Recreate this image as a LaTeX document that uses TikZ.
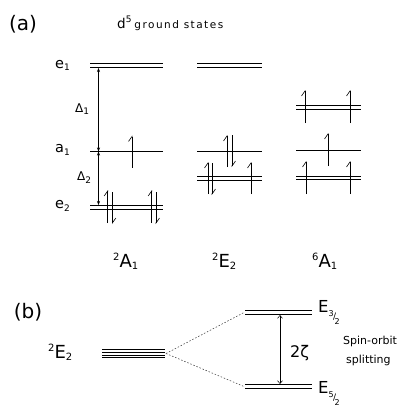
\documentclass[tikz,border=0pt]{standalone}
\usepackage{fontspec}
\setmainfont{DejaVu Sans}
\usetikzlibrary{arrows.meta}
\newcommand\subx[3]{\raisebox{#1}{\fontsize{#2}{#2}\selectfont #3}}
\begin{document}
\begin{tikzpicture}[x=1pt,y=-1pt,
  lvl/.style={line width=0.9pt},
  fine/.style={line width=0.55pt},
  upe/.style={line width=0.6pt,-{Straight Barb[harpoon,length=5pt,width=7pt,line width=0.6pt]}},
  gap/.style={line width=0.5pt,{Stealth[length=4pt,width=3pt]}-{Stealth[length=4pt,width=3pt]}},
  zgap/.style={line width=0.5pt,{Straight Barb[length=3pt,width=5pt,line width=0.5pt]}-{Straight Barb[length=3pt,width=5pt,line width=0.5pt]}},
  dotl/.style={line width=0.55pt,dash pattern=on 1.5pt off 1.8pt,black!75},
  lab/.style={anchor=base west,inner sep=0pt,font=\fontsize{14.5}{14.5}\selectfont},
  big/.style={anchor=base west,inner sep=0pt,font=\fontsize{18}{18}\selectfont},
  small/.style={anchor=base west,inner sep=0pt,font=\fontsize{11}{11}\selectfont}
]
\useasboundingbox (0,0) rectangle (409,413);
% headings
\node[inner sep=0pt,font=\fontsize{20}{20}\selectfont] (pa) at (23,24) {(a)};
\node[anchor=base west,inner sep=0pt,font=\fontsize{13.5}{13.5}\selectfont] (title) at (117,28)
  {d\subx{6pt}{9}{5}\kern3pt{\fontsize{10.5}{10.5}\selectfont\addfontfeature{LetterSpace=14}ground states}};
\node[inner sep=0pt,font=\fontsize{20}{20}\selectfont] (pb) at (28,312) {(b)};
% level labels
\node[lab] (le1) at (55,68) {e\subx{-2pt}{9}{1}};
\node[lab] (la1) at (55,152) {a\subx{-3pt}{9}{1}};
\node[lab] (le2) at (55,208) {e\subx{-3pt}{9}{2}};
\node[anchor=base west,inner sep=0pt,font=\fontsize{12}{12}\selectfont] (ld1) at (75,112) {Δ\subx{-2pt}{9}{1}};
\node[anchor=base west,inner sep=0pt,font=\fontsize{12}{12}\selectfont] (ld2) at (77,180) {Δ\subx{-3pt}{9}{2}};
% term labels
\node[big] (t1) at (113,267) {\subx{7pt}{10}{2}A\subx{-2pt}{10}{1}};
\node[big] (t2) at (212,267) {\subx{7pt}{10}{2}E\subx{-2pt}{10}{2}};
\node[big] (t3) at (312,267) {\subx{7pt}{10}{6}A\subx{-2pt}{10}{1}};
% column 1 (2A1)
\draw[lvl] (90,63.5) -- (163,63.5);
\draw[lvl] (90,67.5) -- (163,67.5);
\draw[lvl] (90,151.5) -- (163,151.5);
\draw[lvl] (90,205) -- (163,205);
\draw[lvl] (90,209) -- (163,209);
\draw[upe] (132,167.5) -- (132,135.5);
\draw[upe] (107.7,223) -- (107.7,190);
\draw[upe] (112.3,192) -- (112.3,224);
\draw[upe] (151.7,223) -- (151.7,190);
\draw[upe] (156,192) -- (156,224);
% gaps
\coordinate (d1top) at (98.5,68);
\coordinate (d1bot) at (98.5,151.5);
\coordinate (d2bot) at (98.5,205);
\draw[gap] (d1top) -- (d1bot);
\draw[gap] (d1bot) -- (d2bot);
% column 2 (2E2)
\draw[lvl] (197,63.5) -- (262,63.5);
\draw[lvl] (197,67.5) -- (262,67.5);
\draw[lvl] (197,151) -- (262,151);
\draw[lvl] (197,176) -- (262,176);
\draw[lvl] (197,180) -- (262,180);
\draw[upe] (227,167) -- (227,135);
\draw[upe] (232,135) -- (232,167);
\draw[upe] (208,194) -- (208,162);
\draw[upe] (212,163) -- (212,195);
\draw[upe] (251,194) -- (251,162);
% column 3 (6A1)
\draw[lvl] (296,105) -- (361,105);
\draw[lvl] (296,109) -- (361,109);
\draw[lvl] (296,150) -- (361,150);
\draw[lvl] (296,176) -- (361,176);
\draw[lvl] (296,179.5) -- (361,179.5);
\draw[upe] (305,123) -- (305,90);
\draw[upe] (350,123) -- (350,90);
\draw[upe] (328,166) -- (328,133);
\draw[upe] (306,194) -- (306,161);
\draw[upe] (350,194) -- (350,161);
% part (b)
\node[big] (b2e) at (48,358) {\subx{7pt}{10}{2}E\subx{-2pt}{10}{2}};
\foreach \yy in {349.5,352.2,354.8,357.5} \draw[fine] (102,\yy) -- (165,\yy);
\coordinate (bsrc) at (166,353.5);
\coordinate (b32) at (244,312.5);
\coordinate (b52) at (244,386.5);
\draw[dotl] (bsrc) -- (b32);
\draw[dotl] (bsrc) -- (b52);
\draw[lvl] (245,310.5) -- (312,310.5);
\draw[lvl] (245,314.5) -- (312,314.5);
\draw[lvl] (245,384.5) -- (312,384.5);
\draw[lvl] (245,388.5) -- (312,388.5);
\coordinate (z1) at (280,315);
\coordinate (z2) at (280,384);
\draw[zgap] (z1) -- (z2);
\node[anchor=base west,inner sep=0pt,font=\fontsize{16.5}{16.5}\selectfont] (e32) at (318,312)
  {E\subx{-4pt}{8}{3}\kern-0.5pt\subx{-7pt}{9}{/}\kern-1.5pt\subx{-12pt}{8}{2}};
\node[anchor=base west,inner sep=0pt,font=\fontsize{16.5}{16.5}\selectfont] (e52) at (318,393)
  {E\subx{-4pt}{8}{5}\kern-0.5pt\subx{-7pt}{9}{/}\kern-1.5pt\subx{-12pt}{8}{2}};
\node[anchor=base west,inner sep=0pt,font=\fontsize{16}{16}\selectfont] (zeta) at (290,357) {2ζ};
\node[small] (so1) at (343,344) {Spin-orbit};
\node[small] (so2) at (346,363) {splitting};
\end{tikzpicture}
\end{document}
